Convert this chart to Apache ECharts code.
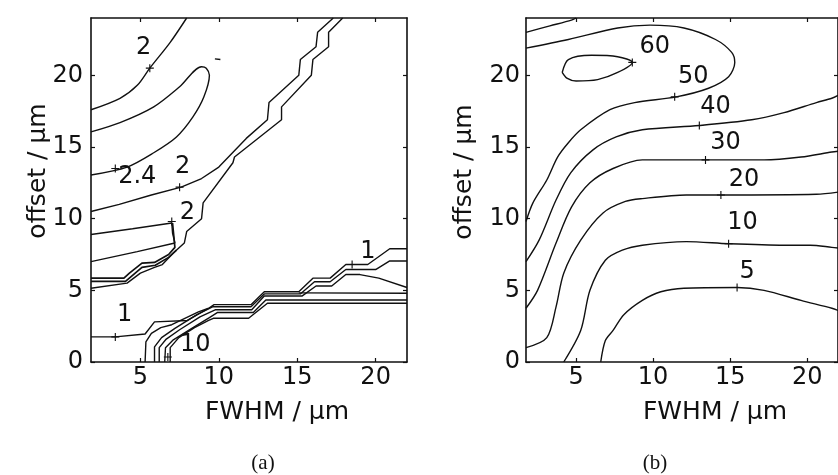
<!DOCTYPE html>
<html>
<head>
<meta charset="utf-8">
<script src="https://cdn.jsdelivr.net/npm/echarts@6/dist/echarts.min.js"></script>
<style>html,body{margin:0;padding:0;background:#fff;}#c{width:838px;height:475px;}</style>
</head>
<body>
<div id="c"></div>
<script>
// ---- tick labels ----
const xTicks = [5, 10, 15, 20];
const yTicks = [0, 5, 10, 15, 20];

// ---- panel (a) contour lines: [FWHM, offset] ----
const a_c2top = [[1.85,17.6],[3.7,18.4],[4.8,19.3],[5.6,20.5],[6.9,22.3],[7.95,24]];
const a_c24 = [[1.85,16.05],[3.7,16.7],[5.85,17.8],[7.5,19.2],[8.9,20.6],[9.2,20.5],[9.4,20.0],[9.05,18.5],[8.35,17.1],[7.3,15.7],[5.85,14.6],[4.15,13.6],[1.85,13.05]];
const a_c2mid = [[1.85,10.5],[3.65,11.0],[5.7,11.65],[7.6,12.2],[8.9,12.8],[10.0,13.6],[11.75,15.6],[13.1,16.9],[13.2,18.1],[15.1,20.0],[15.2,21.1],[16.2,22.0],[16.3,23.0],[17.3,24]];
const a_stairR = [[17.9,24],[17.0,23.0],[17.0,22.0],[16.0,21.1],[15.9,20.0],[14.0,17.8],[14.0,16.9],[11.0,14.3],[10.9,13.9],[9.0,11.1],[8.9,10.0],[7.95,9.1],[7.8,8.3],[7.1,7.6],[6.4,6.8],[5.9,6.6],[5.0,6.2],[4.15,5.5],[1.85,5.15]];
const a_c2low = [[1.85,8.9],[4.5,9.3],[7.0,9.7],[7.05,9.0],[7.2,8.3],[4.8,7.7],[1.85,7.0]];
const a_thick1 = [[1.85,5.85],[3.95,5.85],[4.3,6.2],[5.1,6.9],[5.9,6.95],[6.8,7.5],[7.2,8.0],[7.05,9.7]];
const a_thick2 = [[1.85,5.62],[4.05,5.62],[5.1,6.6],[5.95,6.75],[6.8,7.3],[7.3,7.8]];
const a_c1 = [[1.85,1.75],[3.4,1.75],[5.3,1.95],[5.9,2.8],[8.0,2.9],[9.35,3.75],[9.7,4.0],[12.05,4.0],[12.9,4.9],[15.1,4.9],[16.0,5.85],[17.1,5.85],[18.1,6.8],[19.5,6.8],[20.9,7.9],[22,7.9]];
const a_b0 = [[5.3,0],[5.35,1.4],[5.7,2.0],[6.3,2.4],[7.0,2.6],[8.7,3.5],[9.35,3.75]];
const a_b2 = [[5.9,0],[5.9,1.05],[6.35,1.7],[7.2,2.35],[8.6,3.3],[9.6,3.85],[12.05,3.85],[12.9,4.75],[15.2,4.75],[16.1,5.6],[17.1,5.6],[18.1,6.45],[20.0,6.45],[20.9,7.05],[22,7.05]];
const a_b3 = [[6.2,0],[6.2,1.0],[6.65,1.6],[7.5,2.25],[8.8,3.15],[9.8,3.65],[12.1,3.65],[12.9,4.6],[15.3,4.6],[16.2,5.3],[17.2,5.3],[18.1,6.1],[19.0,6.1],[20.2,5.85],[22,5.2]];
const a_b4 = [[6.55,0],[6.6,1.0],[7.1,1.55],[8.2,2.3],[9.4,3.1],[9.9,3.45],[12.2,3.45],[13.0,4.33],[22,4.33]];
const a_b5 = [[6.9,0],[6.9,1.0],[7.45,1.7],[8.45,2.4],[9.35,2.9],[9.65,3.05],[11.9,3.05],[13.1,4.1],[22,4.1]];
const a_h48 = [[15.1,4.82],[22,4.8]];
const a_tiny = [[9.75,21.15],[10.1,21.1]];
const aLabels = [[5.2,21.9,'2'],[4.8,12.9,'2.4'],[7.7,13.6,'2'],[8.0,10.4,'2'],[4.0,3.3,'1'],[8.5,1.2,'10'],[19.5,7.7,'1']];
const aMarks = [[5.6,20.5],[3.4,13.5],[7.5,12.2],[7.0,9.8],[3.4,1.75],[6.75,0.35],[18.5,6.8]];

// ---- panel (b) contour lines ----
const b_c70 = [[1.75,23.0],[3.3,23.45],[4.7,23.85],[5.0,24]];
const b_c60 = [[4.1,20.2],[4.5,21.1],[6.0,21.4],[7.7,21.3],[8.65,20.9],[7.7,20.2],[6.4,19.7],[5.0,19.6],[4.4,19.8],[4.1,20.2]];
const b_c50 = [[1.75,21.9],[4.5,22.5],[7.7,23.3],[9.8,23.5],[12.0,23.3],[14.05,22.5],[15.1,21.6],[15.3,20.9],[14.9,19.9],[13.6,19.1],[11.5,18.5],[8.8,18.1],[7.2,17.6],[5.3,16.2],[4.5,15.3],[3.8,14.3],[3.1,12.7],[2.2,11.1],[1.75,9.8]];
const b_c40 = [[1.75,7.0],[2.6,8.5],[3.7,11.3],[4.65,13.2],[6.1,14.8],[7.6,15.7],[9.3,16.2],[13.0,16.5],[16.4,16.9],[18.5,17.4],[20.6,18.1],[21.6,18.4],[22,18.6]];
const b_c30 = [[1.75,3.75],[2.5,5.0],[3.7,8.3],[4.7,10.8],[5.9,12.5],[7.4,13.5],[9.3,14.1],[12.15,14.1],[17.2,14.1],[19.6,14.3],[21.6,14.65],[22,14.7]];
const b_c20 = [[1.75,1.0],[3.1,1.7],[3.7,3.85],[4.2,6.2],[5.3,8.5],[6.75,10.4],[8.2,11.2],[9.3,11.4],[12.15,11.65],[14.4,11.65],[20.6,11.7],[22,11.85]];
const b_c10 = [[4.2,0],[5.3,2.2],[5.9,5.0],[6.9,7.1],[8.0,7.8],[9.3,8.15],[12.15,8.4],[14.9,8.25],[18.5,8.15],[20.2,8.15],[21.6,8.0],[22,7.95]];
const b_c5 = [[6.6,0],[6.9,1.5],[7.4,2.2],[8.1,3.3],[9.3,4.3],[10.5,4.9],[12.0,5.15],[15.45,5.2],[17.2,5.0],[19.6,4.3],[21.6,3.75],[22,3.6]];
const bLabels = [[10.1,22.0,'60'],[12.6,19.9,'50'],[14.05,17.8,'40'],[14.7,15.3,'30'],[15.9,12.7,'20'],[15.8,9.7,'10'],[16.1,6.3,'5']];
const bMarks = [[8.65,20.9],[11.4,18.5],[13.0,16.5],[13.4,14.1],[14.4,11.65],[14.9,8.25],[15.45,5.2]];

const INK = '#111111';
const FONT = 'DejaVu Sans';

function line(data, g, smooth, width) {
  return {type:'line', xAxisIndex:g*2, yAxisIndex:g*2, data:data, showSymbol:false, symbol:'none',
    smooth: smooth ? 0.3 : false, clip:true, silent:true, animation:false,
    lineStyle:{color:INK, width: width || 1.4, opacity:1}};
}
function marks(data, g) {
  return {type:'scatter', xAxisIndex:g*2, yAxisIndex:g*2, data:data, silent:true, animation:false,
    symbol:'path://M4.3,0h1.4v10h-1.4z M0,4.3h10v1.4h-10z', symbolSize:8, itemStyle:{color:INK, opacity:1}};
}
function labels(data, g) {
  return {type:'scatter', xAxisIndex:g*2, yAxisIndex:g*2, data:data, silent:true, animation:false,
    symbolSize:1, itemStyle:{color:'rgba(255,255,255,0)', opacity:1},
    label:{show:true, position:'inside', formatter:p=>p.data[2], fontSize:24, fontFamily:FONT, color:INK, opacity:1}};
}
function xAx(g, min, pos) {
  const bottom = pos === 'bottom';
  return {gridIndex:g, type:'value', min:min, max:22, position:pos,
    axisLine:{show:true, onZero:false, lineStyle:{color:INK, width:1.6}},
    axisTick:{show:true, inside:true, length:4, customValues:xTicks, lineStyle:{color:INK, width:1.2}},
    axisLabel:{show:bottom, customValues:xTicks, fontSize:24, fontFamily:FONT, color:INK, margin:4},
    splitLine:{show:false}};
}
function yAx(g, pos, margin) {
  const left = pos === 'left';
  return {gridIndex:g, type:'value', min:0, max:24, position:pos,
    axisLine:{show:true, onZero:false, lineStyle:{color:INK, width:1.6}},
    axisTick:{show:true, inside:true, length:4, customValues:yTicks, lineStyle:{color:INK, width:1.2}},
    axisLabel:{show:left, customValues:yTicks, fontSize:24, fontFamily:FONT, color:INK, margin:margin},
    splitLine:{show:false}};
}

const chart = echarts.init(document.getElementById('c'), null, {renderer:'canvas'});
chart.setOption({
  animation:false,
  backgroundColor:'#fff',
  grid:[
    {left:91, top:18, width:316, height:344},
    {left:526, top:18, width:318, height:344}
  ],
  xAxis:[xAx(0,1.85,'bottom'), xAx(0,1.85,'top'), xAx(1,1.75,'bottom'), xAx(1,1.75,'top')],
  yAxis:[yAx(0,'left',8), yAx(0,'right',8), yAx(1,'left',6), yAx(1,'right',6)],
  series:[
    line(a_c2top,0,true), line(a_c24,0,true), line(a_c2mid,0,false), line(a_stairR,0,false),
    line(a_c2low,0,false), line(a_thick1,0,false,1.7), line(a_thick2,0,false,1.7),
    line(a_c1,0,false), line(a_b0,0,false), line(a_b2,0,false), line(a_b3,0,false),
    line(a_b4,0,false), line(a_b5,0,false), line(a_h48,0,false), line(a_tiny,0,false),
    marks(aMarks,0), labels(aLabels,0),
    line(b_c70,1,true), line(b_c60,1,true), line(b_c50,1,true), line(b_c40,1,true),
    line(b_c30,1,true), line(b_c20,1,true), line(b_c10,1,true), line(b_c5,1,true),
    marks(bMarks,1), labels(bLabels,1)
  ],
  graphic:[
    {type:'text', x:277, y:412, style:{text:'FWHM / µm', fontSize:25, fontFamily:FONT, fill:INK, align:'center', verticalAlign:'middle'}},
    {type:'text', x:715, y:412, style:{text:'FWHM / µm', fontSize:25, fontFamily:FONT, fill:INK, align:'center', verticalAlign:'middle'}},
    {type:'text', x:38, y:171, rotation:Math.PI/2, style:{text:'offset / µm', fontSize:25, fontFamily:FONT, fill:INK, align:'center', verticalAlign:'middle'}},
    {type:'text', x:464, y:172, rotation:Math.PI/2, style:{text:'offset / µm', fontSize:25, fontFamily:FONT, fill:INK, align:'center', verticalAlign:'middle'}},
    {type:'text', x:263, y:463, style:{text:'(a)', fontSize:21, fontFamily:'Liberation Serif', fill:INK, align:'center', verticalAlign:'middle'}},
    {type:'text', x:655, y:463, style:{text:'(b)', fontSize:21, fontFamily:'Liberation Serif', fill:INK, align:'center', verticalAlign:'middle'}}
  ]
});
</script>
</body>
</html>
